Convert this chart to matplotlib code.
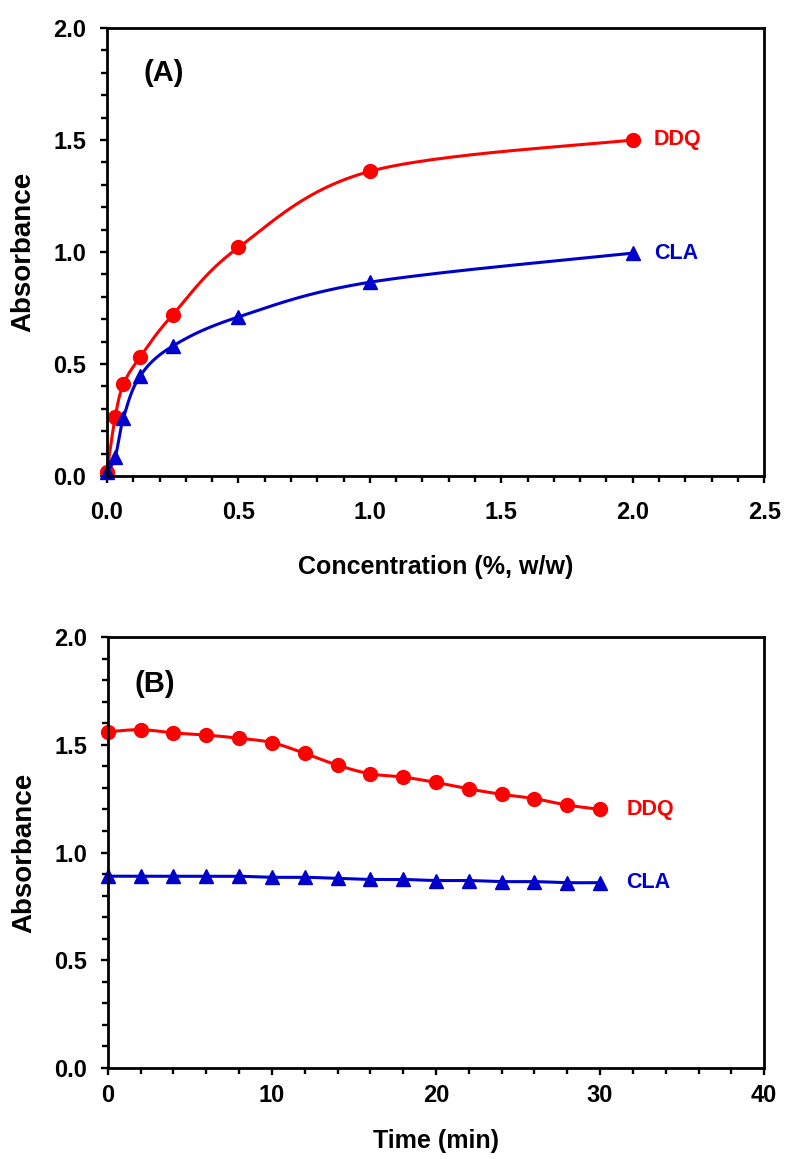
import matplotlib
matplotlib.use("Agg")
import matplotlib.pyplot as plt
from matplotlib.ticker import MultipleLocator, FormatStrFormatter
import numpy as np

plt.rcParams['font.family'] = ['Liberation Sans', 'DejaVu Sans']
plt.rcParams['font.weight'] = 'bold'

# panel A: absorbance vs reagent concentration
conc = [0.0, 0.03125, 0.0625, 0.125, 0.25, 0.5, 1.0, 2.0]
ddq_conc = [0.02, 0.265, 0.41, 0.53, 0.72, 1.02, 1.36, 1.50]
cla_conc = [0.02, 0.085, 0.26, 0.445, 0.58, 0.71, 0.865, 0.995]

# panel B: absorbance vs time
time_min = [0, 2, 4, 6, 8, 10, 12, 14, 16, 18, 20, 22, 24, 26, 28, 30]
ddq_time = [1.56, 1.57, 1.555, 1.545, 1.53, 1.51, 1.46, 1.405, 1.365, 1.35,
            1.325, 1.295, 1.27, 1.25, 1.22, 1.20]
cla_time = [0.89, 0.89, 0.89, 0.89, 0.89, 0.885, 0.885, 0.88, 0.875, 0.875,
            0.87, 0.87, 0.865, 0.865, 0.86, 0.86]

RED = '#ff0000'
BLUE = '#0000cc'


def smooth(ax, x, y, n=30):
    # excel-style smoothed line: bezier through points, done in pixel space
    pts = ax.transData.transform(np.column_stack([x, y]))
    p = np.vstack([pts[0], pts, pts[-1]])
    out = []
    for i in range(1, len(p) - 2):
        p0, p3 = p[i], p[i + 1]
        c1 = p0 + (p[i + 1] - p[i - 1]) / 6.0
        c2 = p3 - (p[i + 2] - p[i]) / 6.0
        t = np.linspace(0, 1, n)[:, None]
        seg = ((1 - t) ** 3) * p0 + 3 * ((1 - t) ** 2) * t * c1 \
            + 3 * (1 - t) * t ** 2 * c2 + t ** 3 * p3
        out.append(seg)
    out = np.vstack(out)
    return ax.transData.inverted().transform(out).T


def style(ax, xmax, xmajor, xminor, xfmt, xpad):
    ax.set_xlim(0, xmax)
    ax.set_ylim(0, 2.0)
    ax.xaxis.set_major_locator(MultipleLocator(xmajor))
    ax.xaxis.set_minor_locator(MultipleLocator(xminor))
    ax.yaxis.set_major_locator(MultipleLocator(0.5))
    ax.yaxis.set_minor_locator(MultipleLocator(0.1))
    ax.xaxis.set_major_formatter(FormatStrFormatter(xfmt))
    ax.yaxis.set_major_formatter(FormatStrFormatter('%.1f'))
    for s in ax.spines.values():
        s.set_linewidth(2.0)
    ax.tick_params(which='both', direction='out', width=1.7, labelsize=17,
                   top=False, right=False)
    ax.tick_params(which='major', length=5)
    ax.tick_params(which='minor', length=4.5)
    ax.tick_params(axis='x', which='major', pad=xpad)
    ax.tick_params(axis='y', which='major', pad=10)
    ax.set_ylabel('Absorbance', fontsize=20, fontweight='bold', labelpad=12)


fig = plt.figure(figsize=(7.87, 11.59), dpi=100)
axA = fig.add_axes([0.136, 0.5893, 0.835, 0.3866])
axB = fig.add_axes([0.137, 0.0785, 0.834, 0.3719])

style(axA, 2.5, 0.5, 0.1, '%.1f', 13)
style(axB, 40, 10, 2, '%d', 6.5)

sx, sy = smooth(axA, conc, ddq_conc)
axA.plot(sx, sy, color=RED, lw=2.2, clip_on=False)
axA.plot(conc, ddq_conc, 'o', color=RED, ms=10, clip_on=False)
sx, sy = smooth(axA, conc, cla_conc)
axA.plot(sx, sy, color=BLUE, lw=2.2, clip_on=False)
axA.plot(conc, cla_conc, '^', color=BLUE, ms=10.5, clip_on=False)
axA.text(2.08, ddq_conc[-1], 'DDQ', color=RED, fontsize=15.5, fontweight='bold', va='center')
axA.text(2.08, cla_conc[-1], 'CLA', color=BLUE, fontsize=15.5, fontweight='bold', va='center')
axA.text(0.14, 1.8, '(A)', fontsize=21, fontweight='bold', va='center')
axA.set_xlabel('Concentration (%, w/w)', fontsize=18, fontweight='bold', labelpad=22)

sx, sy = smooth(axB, time_min, ddq_time)
axB.plot(sx, sy, color=RED, lw=2.2, clip_on=False)
axB.plot(time_min, ddq_time, 'o', color=RED, ms=10, clip_on=False)
sx, sy = smooth(axB, time_min, cla_time)
axB.plot(sx, sy, color=BLUE, lw=2.2, clip_on=False)
axB.plot(time_min, cla_time, '^', color=BLUE, ms=10.5, clip_on=False)
axB.text(31.6, ddq_time[-1], 'DDQ', color=RED, fontsize=15.5, fontweight='bold', va='center')
axB.text(31.6, cla_time[-1], 'CLA', color=BLUE, fontsize=15.5, fontweight='bold', va='center')
axB.text(1.6, 1.78, '(B)', fontsize=21, fontweight='bold', va='center')
axB.set_xlabel('Time (min)', fontsize=18, fontweight='bold', labelpad=16)

fig.savefig('out.png', dpi=100)
